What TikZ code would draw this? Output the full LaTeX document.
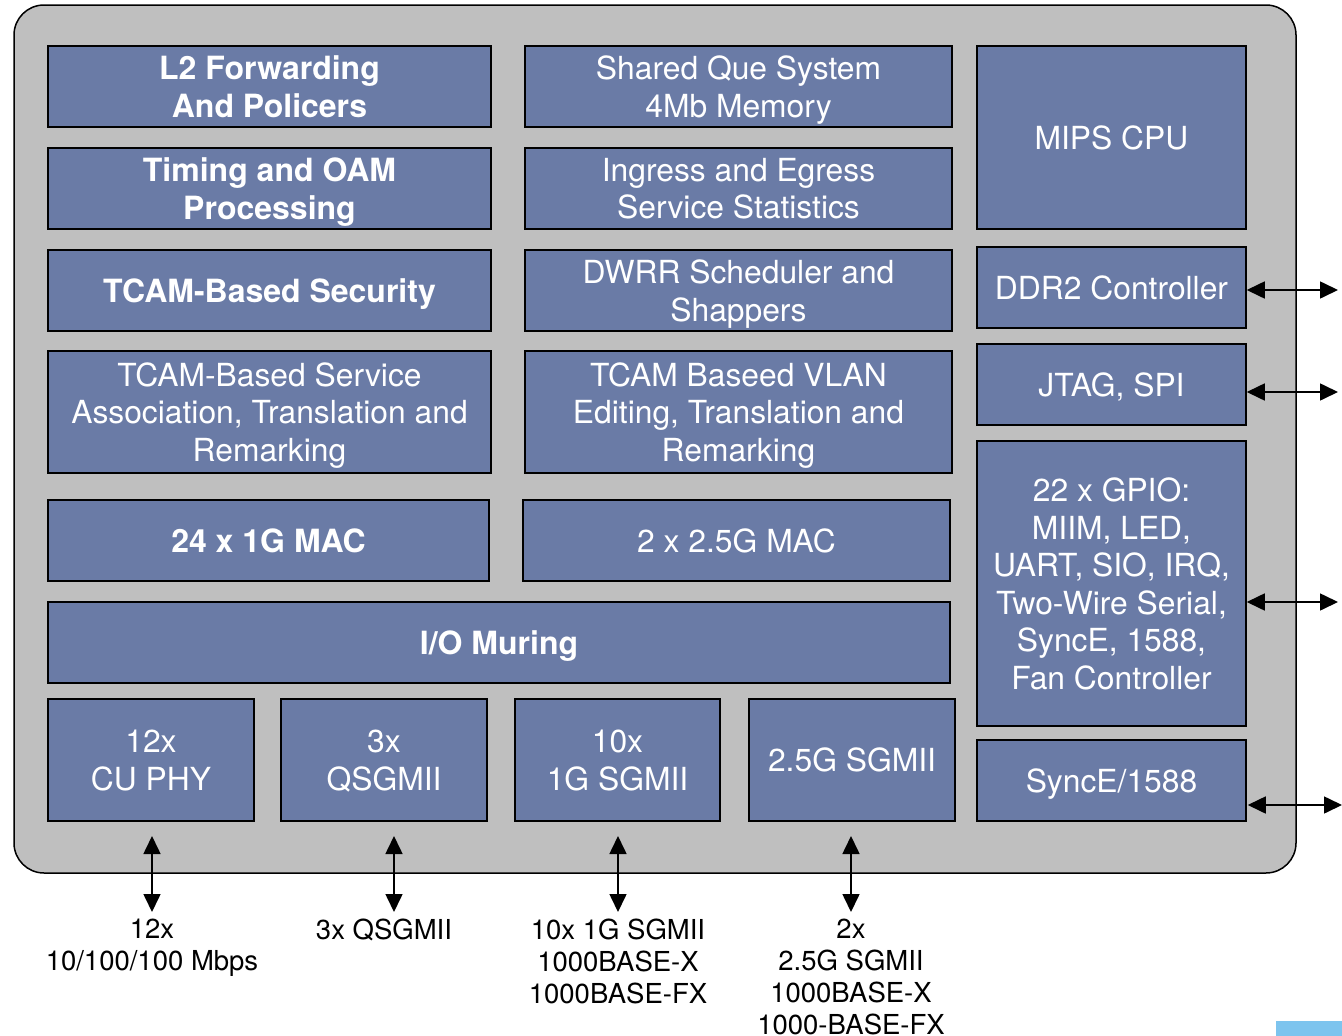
\documentclass[tikz,border=0pt]{standalone}
\usepackage{fontspec}
\setmainfont{TeX Gyre Heros}
\usetikzlibrary{arrows.meta}
\definecolor{boxblue}{HTML}{6A7BA6}
\definecolor{panelgray}{HTML}{BFBFBF}
\definecolor{cornerblue}{HTML}{7DC4EE}
\begin{document}
\begin{tikzpicture}[x=1pt,y=-1pt,
  blk/.style={draw=black, line width=1.5pt, fill=boxblue, text=white, align=center, inner sep=0pt, text depth=0pt, font=\fontsize{31.8}{37.5}\selectfont},
  bld/.style={font=\fontsize{32}{38}\selectfont\bfseries},
  lbl/.style={align=center, anchor=north, inner xsep=0pt, inner ysep=7pt, font=\fontsize{27.5}{32}\selectfont},
  biarrow/.style={{Triangle[length=18pt,width=17pt]}-{Triangle[length=18pt,width=17pt]}, line width=1.6pt}]
\useasboundingbox (0,0) rectangle (1342,1036);
\clip (0,0) rectangle (1342,1036);
\fill[cornerblue] (1276,1021) rectangle (1342,1036);
% outer panel
\draw[fill=panelgray, line width=1.5pt, rounded corners=30pt] (14,5) rectangle (1296,873);
% left column
\node[blk, bld, minimum width=443, minimum height=81] (l2) at (269.5,86.5) {L2 Forwarding\\And Policers};
\node[blk, bld, minimum width=443, minimum height=81] (timing) at (269.5,188.5) {Timing and OAM\\Processing};
\node[blk, bld, minimum width=443, minimum height=81] (tsec) at (269.5,290.5) {TCAM-Based Security};
\node[blk, minimum width=443, minimum height=122] (tsvc) at (269.5,412) {TCAM-Based Service\\Association, Translation and\\Remarking};
\node[blk, bld, minimum width=441, minimum height=81] (mac1) at (268.5,540.5) {24 x 1G MAC};
% middle column
\node[blk, minimum width=427, minimum height=81] (que) at (738.5,86.5) {Shared Que System\\4Mb Memory};
\node[blk, minimum width=427, minimum height=81] (stats) at (738.5,188.5) {Ingress and Egress\\Service Statistics};
\node[blk, minimum width=427, minimum height=81] (dwrr) at (738.5,290.5) {DWRR Scheduler and\\Shappers};
\node[blk, minimum width=427, minimum height=122] (vlan) at (738.5,412) {TCAM Baseed VLAN\\Editing, Translation and\\Remarking};
\node[blk, minimum width=427, minimum height=81] (mac2) at (736.5,540.5) {2 x 2.5G MAC};
% I/O muring
\node[blk, bld, minimum width=902, minimum height=81] (io) at (499,642.5) {I/O Muring};
% bottom row
\node[blk, minimum width=206, minimum height=122] (cuphy) at (151,760) {12x\\CU PHY};
\node[blk, minimum width=206, minimum height=122] (qsg) at (384,760) {3x\\QSGMII};
\node[blk, minimum width=205, minimum height=122] (sg1) at (617.5,760) {10x\\1G SGMII};
\node[blk, minimum width=206, minimum height=122] (sg25) at (852,760) {2.5G SGMII};
% right column
\node[blk, minimum width=269, minimum height=183] (mips) at (1111.5,137.5) {MIPS CPU};
\node[blk, minimum width=269, minimum height=81] (ddr) at (1111.5,287.5) {DDR2 Controller};
\node[blk, minimum width=269, minimum height=81] (jtag) at (1111.5,384.5) {JTAG, SPI};
\node[blk, minimum width=269, minimum height=285] (gpio) at (1111.5,583.5) {22 x GPIO:\\MIIM, LED,\\UART, SIO, IRQ,\\Two-Wire Serial,\\SyncE, 1588,\\Fan Controller};
\node[blk, minimum width=269, minimum height=81] (synce) at (1111.5,780.5) {SyncE/1588};
% right connectors
\coordinate (ddrout) at (1338,290);
\coordinate (jtagout) at (1338,392);
\coordinate (gpioout) at (1338,602);
\coordinate (synceout) at (1342,805);
\draw[biarrow] ([yshift=-2.5pt]ddr.east) -- (ddrout);
\draw[biarrow] ([yshift=-7.5pt]jtag.east) -- (jtagout);
\draw[biarrow] ([yshift=-18.5pt]gpio.east) -- (gpioout);
\draw[biarrow] ([yshift=-24.5pt,xshift=1pt]synce.east) -- (synceout);
% bottom labels
\node[lbl] (lab1) at (152,912) {12x\\10/100/100 Mbps};
\node[lbl] (lab2) at (384,912) {3x QSGMII};
\node[lbl] (lab3) at (618,912) {10x 1G SGMII\\1000BASE-X\\1000BASE-FX};
\node[lbl] (lab4) at (851,912) {2x\\2.5G SGMII\\1000BASE-X\\1000-BASE-FX};
% bottom connectors
\coordinate (a1) at (152,836);
\coordinate (a2) at (394,836);
\coordinate (a3) at (618,836);
\coordinate (a4) at (851,836);
\draw[biarrow] (a1) -- (a1 |- lab1.north);
\draw[biarrow] (a2) -- (a2 |- lab2.north);
\draw[biarrow] (a3) -- (a3 |- lab3.north);
\draw[biarrow] (a4) -- (a4 |- lab4.north);
\end{tikzpicture}
\end{document}
